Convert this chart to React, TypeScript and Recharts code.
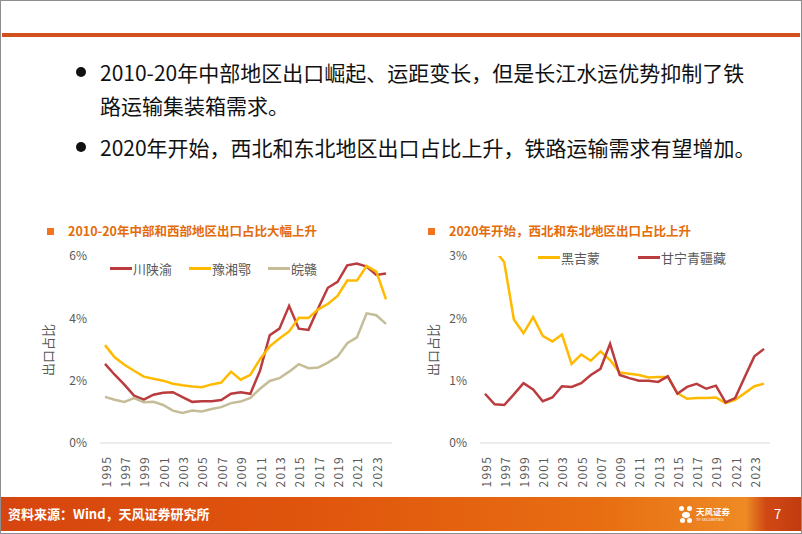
import { LineChart, Line, XAxis, YAxis, Legend } from 'recharts'

const years = [
  '1995', '1996', '1997', '1998', '1999', '2000', '2001', '2002', '2003', '2004',
  '2005', '2006', '2007', '2008', '2009', '2010', '2011', '2012', '2013', '2014',
  '2015', '2016', '2017', '2018', '2019', '2020', '2021', '2022', '2023', '2024',
]

// 左图：中部、西部地区出口占比（%）
const chuanShaanYu = [2.54, 2.19, 1.87, 1.52, 1.39, 1.55, 1.61, 1.63, 1.47, 1.32, 1.34, 1.34, 1.38, 1.58, 1.63, 1.58, 2.32, 3.46, 3.67, 4.40, 3.67, 3.63, 4.32, 4.98, 5.17, 5.70, 5.76, 5.66, 5.39, 5.44]
const yuXiangE = [3.14, 2.75, 2.51, 2.32, 2.13, 2.06, 2.00, 1.90, 1.85, 1.81, 1.79, 1.88, 1.94, 2.29, 2.03, 2.19, 2.69, 3.10, 3.35, 3.58, 4.02, 4.01, 4.29, 4.46, 4.72, 5.21, 5.21, 5.68, 5.50, 4.61]
const wanGan = [1.48, 1.39, 1.32, 1.44, 1.31, 1.32, 1.22, 1.04, 0.96, 1.04, 1.01, 1.09, 1.15, 1.28, 1.33, 1.45, 1.74, 1.99, 2.08, 2.29, 2.53, 2.40, 2.42, 2.58, 2.77, 3.20, 3.39, 4.16, 4.10, 3.82]

// 右图：西北、东北地区出口占比（%）
const heiJiMeng = [3.4, 3.1, 2.9, 1.98, 1.76, 2.02, 1.72, 1.63, 1.74, 1.27, 1.42, 1.32, 1.47, 1.33, 1.13, 1.11, 1.09, 1.05, 1.06, 1.06, 0.80, 0.71, 0.72, 0.72, 0.73, 0.64, 0.69, 0.80, 0.91, 0.95]
const ganNingQingXinZang = [0.79, 0.62, 0.61, 0.78, 0.96, 0.86, 0.67, 0.73, 0.91, 0.90, 0.96, 1.09, 1.19, 1.59, 1.09, 1.04, 1.00, 1.00, 0.98, 1.07, 0.79, 0.90, 0.95, 0.87, 0.92, 0.65, 0.72, 1.06, 1.39, 1.51]

const leftTicks = [0, 2, 4, 6]
const rightTicks = [0, 1, 2, 3]

const RED = '#BA3C3F'
const GOLD = '#FFBA00'
const TAN = '#C4BD97'
const AXIS_TEXT = '#595959'
const ORANGE = '#E46C0A'
const FONT = '"Noto Sans CJK SC", "Noto Sans", sans-serif'

const leftData = years.map((year, i) => ({
  year,
  chuan: chuanShaanYu[i],
  yu: yuXiangE[i],
  wan: wanGan[i],
}))

const rightData = years.map((year, i) => ({
  year,
  hei: heiJiMeng[i],
  gan: ganNingQingXinZang[i],
}))

const pct = (v: number) => v + '%'
const keepOrder = () => 0

function YearTick({ x, y, payload }: any) {
  const ty = y + 5
  return (
    <text x={x} y={ty} transform={`rotate(-90 ${x} ${ty})`} textAnchor="end" dominantBaseline="central"
      fontSize={12} fill={AXIS_TEXT} fontFamily={FONT} style={{ letterSpacing: 1.2 }}>
      {payload.value}
    </text>
  )
}

function LegendRow({ payload, gap }: any) {
  return (
    <div style={{ display: 'flex', alignItems: 'center', fontFamily: FONT, fontSize: 13, color: AXIS_TEXT, whiteSpace: 'nowrap' }}>
      {(payload || []).map((p: any) => (
        <span key={p.value} style={{ display: 'flex', alignItems: 'center', marginRight: gap }}>
          <span style={{ width: 22, height: 3, background: p.color, display: 'inline-block', marginRight: 1 }} />
          {p.value}
        </span>
      ))}
    </div>
  )
}

function ChartTitle({ left, text }: { left: number; text: string }) {
  return (
    <>
      <div style={{ position: 'absolute', left, top: 228, width: 7, height: 7, background: '#F2741F' }} />
      <div style={{ position: 'absolute', left: left + 21, top: 222, fontSize: 12.5, lineHeight: '18px', fontWeight: 700, color: ORANGE, whiteSpace: 'nowrap' }}>
        {text}
      </div>
    </>
  )
}

function AxisName({ left }: { left: number }) {
  return (
    <div style={{ position: 'absolute', left: left - 30, top: 340, width: 60, textAlign: 'center', fontSize: 13, lineHeight: '20px', color: AXIS_TEXT, transform: 'rotate(-90deg)' }}>
      出口占比
    </div>
  )
}

export default function App() {
  return (
    <div style={{ position: 'relative', width: 802, height: 534, background: '#fff', overflow: 'hidden', fontFamily: FONT }}>
      <style>{'body{margin:0}'}</style>

      {/* 顶部橙线 */}
      <div style={{ position: 'absolute', left: 2, right: 2, top: 33, height: 4, background: '#D24F1E' }} />

      {/* 要点 */}
      <div style={{ position: 'absolute', left: 76, top: 67, width: 10, height: 10, borderRadius: '50%', background: '#111' }} />
      <div style={{ position: 'absolute', left: 100, top: 56, fontSize: 21, lineHeight: '33px', color: '#111', whiteSpace: 'nowrap' }}>
        2010-20年中部地区出口崛起、运距变长，但是长江水运优势抑制了铁<br />路运输集装箱需求。
      </div>
      <div style={{ position: 'absolute', left: 76, top: 142, width: 10, height: 10, borderRadius: '50%', background: '#111' }} />
      <div style={{ position: 'absolute', left: 100, top: 131, fontSize: 21, lineHeight: '33px', color: '#111', whiteSpace: 'nowrap' }}>
        2020年开始，西北和东北地区出口占比上升，铁路运输需求有望增加。
      </div>

      <ChartTitle left={47} text="2010-20年中部和西部地区出口占比大幅上升" />
      <ChartTitle left={428} text="2020年开始，西北和东北地区出口占比上升" />

      <AxisName left={48} />
      <AxisName left={433} />

      {/* 左图 */}
      <div style={{ position: 'absolute', left: 40, top: 246 }}>
        <LineChart width={360} height={250} data={leftData} margin={{ top: 10, right: 8, bottom: 0, left: 0 }}>
          <XAxis dataKey="year" interval={1} tick={<YearTick />} tickLine={false} height={53}
            axisLine={{ stroke: '#D9D9D9' }} padding={{ left: 5, right: 6 }} />
          <YAxis domain={[0, 6]} ticks={leftTicks} tickFormatter={pct} width={60} axisLine={false} tickLine={false}
            tickSize={0} tickMargin={13} tick={{ fontSize: 12, fill: AXIS_TEXT, fontFamily: FONT }} />
          <Legend layout="horizontal" verticalAlign="middle" align="center" itemSorter={keepOrder}
            wrapperStyle={{ left: 70, top: 13, width: 'auto' }}
            content={(props: any) => <LegendRow payload={props.payload} gap={17} />} />
          <Line dataKey="chuan" name="川陕渝" stroke={RED} strokeWidth={2.5} dot={false} isAnimationActive={false} />
          <Line dataKey="yu" name="豫湘鄂" stroke={GOLD} strokeWidth={2.5} dot={false} isAnimationActive={false} />
          <Line dataKey="wan" name="皖赣" stroke={TAN} strokeWidth={2.5} dot={false} isAnimationActive={false} />
        </LineChart>
      </div>

      {/* 右图 */}
      <div style={{ position: 'absolute', left: 420, top: 246 }}>
        <LineChart width={360} height={250} data={rightData} margin={{ top: 10, right: 10, bottom: 0, left: 0 }}>
          <XAxis dataKey="year" interval={1} tick={<YearTick />} tickLine={false} height={53}
            axisLine={{ stroke: '#D9D9D9' }} padding={{ left: 5, right: 6 }} />
          <YAxis domain={[0, 3]} ticks={rightTicks} allowDataOverflow tickFormatter={pct} width={60} axisLine={false}
            tickLine={false} tickSize={0} tickMargin={13} tick={{ fontSize: 12, fill: AXIS_TEXT, fontFamily: FONT }} />
          <Legend layout="horizontal" verticalAlign="middle" align="center" itemSorter={keepOrder}
            wrapperStyle={{ left: 118, top: 2, width: 'auto' }}
            content={(props: any) => <LegendRow payload={props.payload} gap={38} />} />
          <Line dataKey="hei" name="黑吉蒙" stroke={GOLD} strokeWidth={2.5} dot={false} isAnimationActive={false} />
          <Line dataKey="gan" name="甘宁青疆藏" stroke={RED} strokeWidth={2.5} dot={false} isAnimationActive={false} />
        </LineChart>
      </div>

      {/* 底部栏 */}
      <div style={{
        position: 'absolute', left: 0, right: 0, top: 497, height: 34,
        background: 'linear-gradient(to right, #D6450F 0%, #E0560D 40%, #E86E12 75%, #EE8A24 93%, #D04914 95.5%, #C23B10 100%)',
      }}>
        <div style={{ position: 'absolute', left: 8, top: 7, fontSize: 13, fontWeight: 700, color: '#fff', lineHeight: '20px', whiteSpace: 'nowrap' }}>
          资料来源：Wind，天风证券研究所
        </div>
        <div style={{ position: 'absolute', left: 679, top: 9 }}>
          <span style={{ position: 'absolute', left: 0, top: 0, width: 5, height: 5, borderRadius: '50%', background: '#fff' }} />
          <span style={{ position: 'absolute', left: 8, top: 0, width: 5, height: 5, borderRadius: '50%', background: '#fff' }} />
          <span style={{ position: 'absolute', left: 3, top: 6, width: 8, height: 6, borderRadius: '50%', background: '#fff' }} />
          <span style={{ position: 'absolute', left: 1, top: 12, width: 5, height: 5, borderRadius: '50%', background: '#fff' }} />
          <span style={{ position: 'absolute', left: 8, top: 12, width: 5, height: 5, borderRadius: '50%', background: '#fff' }} />
        </div>
        <div style={{ position: 'absolute', left: 696, top: 9, fontSize: 8.5, fontWeight: 700, color: '#fff', lineHeight: '10px', whiteSpace: 'nowrap' }}>
          天风证券
        </div>
        <div style={{ position: 'absolute', left: 696, top: 20, fontSize: 4, color: '#fff', lineHeight: '5px', whiteSpace: 'nowrap' }}>
          TF SECURITIES
        </div>
        <div style={{ position: 'absolute', left: 774, top: 7, fontSize: 13, color: '#fff', lineHeight: '20px' }}>7</div>
      </div>

      {/* 边框 */}
      <div style={{ position: 'absolute', inset: 0, border: '1px solid #8E8E8E', pointerEvents: 'none' }} />
    </div>
  )
}
